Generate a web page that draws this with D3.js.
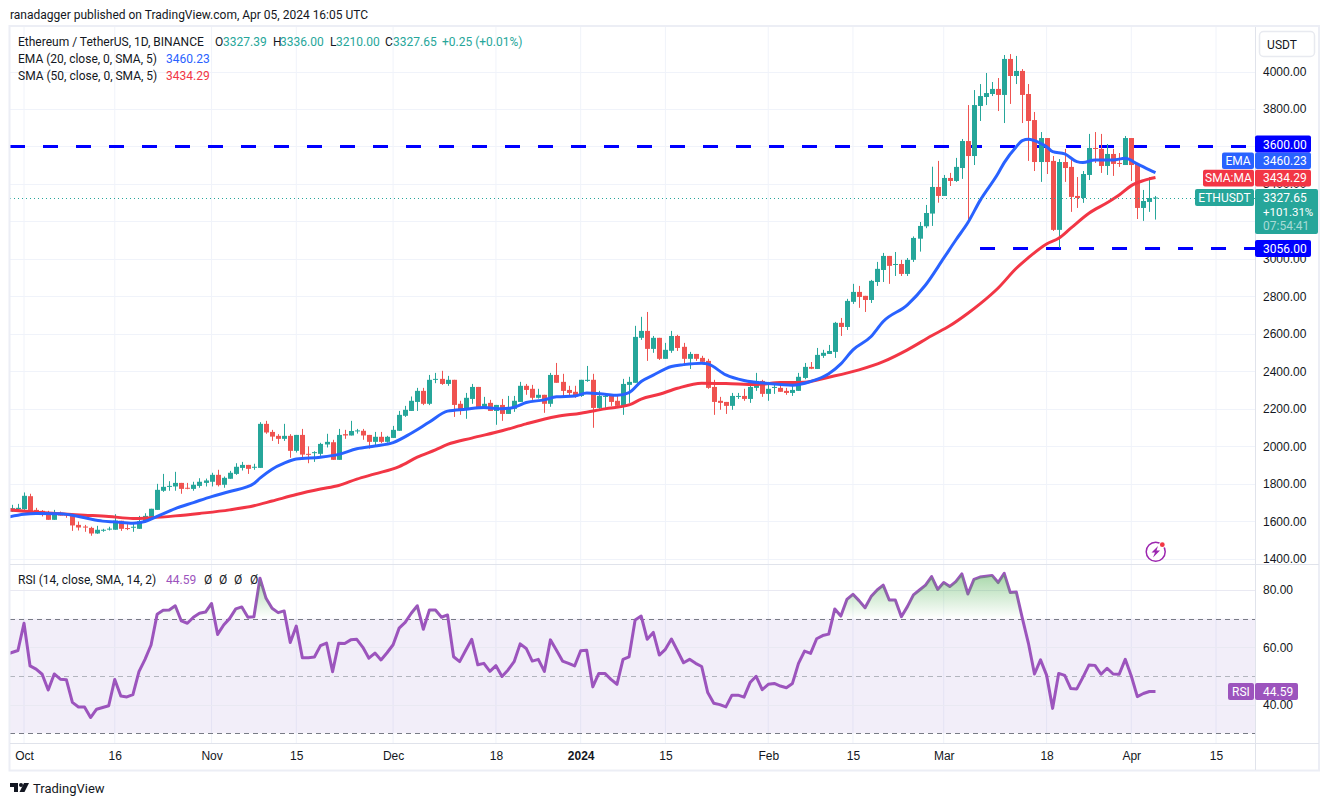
<!DOCTYPE html>
<html>
<head>
<meta charset="utf-8">
<style>
  html, body { margin: 0; padding: 0; background: #fff; }
  svg { display: block; font-family: Roboto, sans-serif; }
  .axis text { fill: #131722; font-size: 12px; }
  .axis path, .axis line { display: none; }
</style>
</head>
<body>
<div id="my_dataviz"></div>
<script src="https://d3js.org/d3.v7.min.js"></script>
<script>

// daily candles, first one is 29 Sep 2023, last one 5 Apr 2024
var opens = [1652,1665,
  1665,1734,1661,1656,1645,1608,1645,1638,1633,1581,1572,1565,1535,1551,1558,1555,1603,1564,1567,1560,1597,1624,1661,1763,1786,1786,1805,1779,1773,1789,1805,
  1811,1848,1795,1827,1853,1885,1901,1887,1885,2120,2077,2056,2040,2056,1976,2061,1960,1965,1960,2010,2022,1928,2065,2058,2081,2083,2061,2024,2051,2024,
  2045,2083,2163,2189,2237,2296,2227,2355,2360,2333,2355,2227,2195,2253,2317,2205,2232,2189,2221,2173,2200,2237,2323,2307,2259,2275,2227,2381,2344,2301,2291,
  2269,2349,2355,2205,2266,2269,2243,2216,2328,2339,2579,2616,2520,2579,2467,2510,2589,2531,2467,2493,2472,2456,2317,2243,2237,2216,2266,2269,2253,2312,2349,
  2280,2312,2312,2296,2285,2296,2365,2424,2413,2483,2493,2504,2659,2637,2771,2824,2803,2781,2877,2941,3016,2968,2973,2920,2995,3108,3174,3242,3384,
  3336,3432,3416,3485,3629,3549,3816,3864,3880,3907,3875,4067,3976,4003,3880,3741,3517,3645,3523,3155,3517,3491,3336,3325,3448,3592,3587,3496,3560,3512,3501,
  3645,3507,3272,3304,3327.39];
var closes = [1670,1672,
  1736,1653,1651,1640,1608,1645,1631,1635,1578,1567,1569,1535,1555,1555,1561,1604,1560,1560,1571,1601,1629,1667,1768,1784,1789,1805,1773,1775,1795,1811,1818,
  1848,1793,1832,1859,1891,1901,1880,1891,2120,2074,2052,2040,2056,1976,2061,1956,1956,1969,2013,2024,1928,2061,2058,2082,2085,2058,2024,2051,2024,2051,
  2088,2168,2195,2243,2296,2227,2355,2360,2333,2355,2221,2195,2259,2317,2205,2227,2189,2221,2173,2205,2243,2323,2301,2259,2275,2227,2381,2339,2296,2285,2269,
  2355,2355,2205,2269,2269,2237,2216,2333,2344,2584,2616,2520,2579,2467,2515,2589,2525,2467,2493,2467,2451,2312,2237,2232,2216,2269,2269,2253,2317,2349,2280,
  2307,2317,2291,2285,2301,2371,2424,2414,2488,2499,2509,2659,2637,2776,2824,2797,2781,2883,2947,3016,2963,2973,2920,2995,3112,3176,3245,3384,3336,
  3432,3416,3491,3629,3549,3821,3869,3885,3907,3875,4067,3976,4003,3875,3736,3517,3645,3517,3155,3517,3485,3331,3325,3453,3592,3587,3496,3560,3507,3507,3645,
  3501,3272,3309,3325,3327.65];
var highs = [1688,1693,
  1754,1747,1672,1660,1656,1661,1652,1643,1636,1599,1581,1571,1576,1560,1571,1638,1603,1585,1587,1629,1643,1667,1800,1853,1814,1864,1805,1805,1811,1830,1828,
  1859,1875,1839,1869,1910,1917,1901,1907,2129,2136,2088,2065,2120,2065,2061,2093,2000,1974,2019,2067,2035,2093,2088,2136,2093,2093,2061,2077,2077,2056,
  2109,2189,2216,2266,2312,2312,2381,2392,2403,2376,2355,2243,2285,2333,2317,2264,2248,2221,2253,2269,2269,2344,2333,2328,2307,2275,2392,2445,2387,2323,2323,
  2355,2429,2387,2296,2280,2269,2275,2360,2371,2643,2691,2717,2589,2579,2552,2616,2595,2552,2504,2493,2483,2467,2355,2264,2237,2285,2285,2307,2333,2392,2355,
  2344,2328,2328,2312,2337,2392,2445,2450,2525,2515,2541,2664,2685,2787,2867,2856,2803,2888,2984,3032,3016,3037,2995,3005,3120,3197,3288,3492,3523,
  3448,3459,3539,3640,3821,3901,3933,3992,3944,3965,4088,4093,4083,4013,3933,3784,3677,3645,3549,3533,3587,3544,3437,3469,3667,3677,3667,3613,3587,3565,3656,
  3645,3507,3368,3437,3336];
var lows = [1650,1661,
  1661,1640,1640,1626,1608,1608,1631,1619,1549,1551,1544,1523,1533,1544,1551,1555,1549,1553,1544,1560,1593,1624,1661,1757,1763,1763,1747,1771,1763,1779,1786,
  1786,1786,1779,1827,1848,1871,1853,1875,1885,2067,2029,2013,2029,1939,1967,1939,1910,1917,1949,1994,1928,1928,2040,2058,2068,2035,1988,1999,2017,2020,
  2045,2083,2157,2189,2189,2220,2220,2337,2328,2323,2157,2168,2147,2227,2202,2205,2189,2115,2136,2173,2184,2237,2275,2248,2255,2179,2211,2339,2259,2266,2259,
  2264,2344,2099,2200,2205,2216,2212,2168,2232,2339,2568,2456,2499,2461,2467,2499,2509,2429,2413,2456,2451,2307,2168,2195,2173,2195,2253,2243,2232,2296,2264,
  2243,2280,2291,2275,2269,2296,2358,2412,2413,2472,2493,2472,2589,2621,2760,2739,2717,2765,2856,2877,2867,2909,2909,2909,2984,3039,3164,3176,3300,
  3336,3389,3411,3427,3199,3501,3736,3821,3869,3789,3725,3827,3933,3725,3523,3469,3411,3453,3149,3059,3411,3251,3272,3299,3421,3512,3459,3448,3443,3491,3501,
  3416,3213,3203,3251,3210];

// moving averages, day = days after 1 Oct 2023
var emaDays = [-3,0,2,6,9,11,13,15,18,20,22,25,28,31,34,38,39,41,43,45,49,52,55,58,61,64,67,70,73,76,79,81,83,86,88,91,93,96,98,100,102,104,107,109,112,113,116,119,123,127,130,133,135,137,140,142,146,149,152,154,156,158,161,162,164,165,166,168,169,170,172,174,175,177,180,182,184,186,187];
var emaValues = [1620,1638,1642,1640,1626,1612,1601,1597,1590,1599,1626,1668,1700,1732,1759,1802,1830,1878,1910,1932,1942,1957,1987,2002,2020,2070,2130,2188,2198,2207,2200,2209,2234,2248,2264,2269,2284,2278,2273,2287,2346,2380,2426,2436,2444,2440,2381,2351,2335,2326,2346,2387,2440,2515,2586,2666,2755,2861,3004,3101,3194,3311,3457,3514,3599,3631,3638,3617,3599,3572,3560,3519,3514,3528,3528,3537,3507,3475,3460.23];
var smaDays = [-3,2,6,10,14,18,21,25,29,34,38,41,45,49,52,55,58,62,65,68,70,74,79,83,88,92,96,100,102,105,108,112,116,121,125,129,133,138,142,146,150,153,156,158,161,164,166,169,171,173,176,179,181,183,185,187];
var smaValues = [1663,1649,1640,1633,1626,1615,1619,1629,1642,1661,1683,1708,1743,1772,1791,1825,1853,1892,1942,1981,2010,2044,2083,2120,2159,2177,2200,2221,2252,2278,2310,2337,2335,2330,2340,2342,2369,2408,2452,2515,2590,2643,2710,2760,2845,2950,3007,3080,3110,3164,3244,3300,3341,3391,3418,3434.29];

// RSI, one value a day starting 28 Sep 2023
var rsiValues = [57.5,58.2,58.9,
  68.4,53.5,52.4,50.6,45.1,50.7,48.9,48.7,40.8,39.2,39.2,35.5,38.4,39,39.6,48.8,43,42.7,43.5,51.5,55.8,60.8,71.5,72.9,73,74.5,69.2,68.4,70.5,71.9,72.3,
  75.3,64.5,67.8,70.1,73.4,74.1,70.5,70.7,84.1,77.1,73.6,72.1,72.7,61.7,67.4,56.4,56.4,56.6,60.6,61.5,51.5,61.4,61.3,62.6,62.8,60,56.2,58,55.6,58.1,
  60.9,66.7,68.7,71.9,74.5,66.3,73,73,70.5,71.3,56.7,55,59,62.8,53.9,54.4,51.6,53.6,49.8,52.1,55,61.2,59.6,55.2,55.8,51.6,62.6,59,55.2,54.4,53.5,
  58.8,59,46.2,50.9,50.9,48.8,47.1,55.8,56.7,69.5,70.9,62.8,65.2,57.3,59.3,62.9,58.8,54.6,55.8,54.4,53.3,44.2,40.5,40,39.2,43.3,43.3,42.6,47.7,49.9,
  45.2,47.1,47.4,46.5,45.9,47.4,54.4,58.7,57.9,63,64.1,64.6,73.4,70.9,76.7,78.5,76.3,73.8,77.7,80,81.7,76.5,76.5,70.7,74.2,78.3,80,81.7,84.7,
  80.2,82.6,81.2,82.9,85.6,78.6,83.7,84.5,84.8,85.1,82.6,85.8,79.1,79.3,70.1,61.4,50.7,55.6,50.3,38.7,50.9,50.2,45.6,45.5,49.5,53.8,53.7,50.6,52.7,50.7,50.6,55.8,
  50,42.8,43.9,44.6,44.59];

var priceTicks = [1400,1600,1800,2000,2200,2400,2600,2800,3000,3200,3400,3600,3800,4000];
var priceLabels = [1400,1600,1800,2000,2200,2400,2600,2800,3000,3400,3800,4000]; // 3200 and 3600 sit under the tags
var rsiTicks = [40,60,80];
var rsiBands = [70,50,30];
var timeTickDays = [0,15,31,45,61,78,92,106,123,137,152,169,183,197];
var timeTickLabels = ["Oct","16","Nov","15","Dec","18","2024","15","Feb","15","Mar","18","Apr","15"];
var supportLevel = 3056, resistanceLevel = 3600;
var supportStartDay = 158;
var lastClose = 3327.65, lastEma = 3460.23, lastSma = 3434.29, lastRsi = 44.59;

var width = 1329, height = 806;
var left = 10, right = 1255, axisY = 743, paneY = 564, topY = 27;

var green = "#26a69a", red = "#ef5350", emaColor = "#2962ff", smaColor = "#f23645",
    rsiColor = "#9c54bd", grid = "#f0f3fa", frame = "#e0e3eb", dashBlue = "#0000ff";

var svg = d3.select("#my_dataviz").append("svg")
    .attr("width", width).attr("height", height);
var defs = svg.append("defs");

var startDay = new Date(Date.UTC(2023, 9, 1));
function toDate(n) { return d3.utcDay.offset(startDay, n); }

var x = d3.scaleUtc().domain([toDate(0), toDate(197)]).range([24, 1216]);
var y = d3.scaleLinear().domain([1400, 4000]).range([558.8, 71.5]);
var rsiY = d3.scaleLinear().domain([30, 80]).range([733.3, 590]);

defs.append("clipPath").attr("id", "priceClip").append("rect")
    .attr("x", left).attr("y", topY).attr("width", right - left).attr("height", paneY - topY);
defs.append("clipPath").attr("id", "rsiClip").append("rect")
    .attr("x", left).attr("y", paneY).attr("width", right - left).attr("height", axisY - paneY);
defs.append("clipPath").attr("id", "overClip").append("rect")
    .attr("x", left).attr("y", paneY).attr("width", right - left).attr("height", rsiY(70) - paneY);

var gradient = defs.append("linearGradient").attr("id", "overFill")
    .attr("gradientUnits", "userSpaceOnUse")
    .attr("x1", 0).attr("x2", 0).attr("y1", rsiY(86)).attr("y2", rsiY(70));
gradient.append("stop").attr("offset", 0).attr("stop-color", "#4caf50").attr("stop-opacity", 0.5);
gradient.append("stop").attr("offset", 1).attr("stop-color", "#4caf50").attr("stop-opacity", 0);

// grid
svg.selectAll(".vgrid").data(timeTickDays).enter().append("line")
    .attr("x1", function(d) { return x(toDate(d)); })
    .attr("x2", function(d) { return x(toDate(d)); })
    .attr("y1", topY).attr("y2", axisY)
    .attr("stroke", grid);
svg.selectAll(".hgrid").data(priceTicks).enter().append("line")
    .attr("x1", left).attr("x2", right)
    .attr("y1", function(d) { return Math.round(y(d)) + 0.5; })
    .attr("y2", function(d) { return Math.round(y(d)) + 0.5; })
    .attr("stroke", grid);

// RSI background
svg.append("rect").attr("x", left).attr("width", right - left)
    .attr("y", rsiY(70)).attr("height", rsiY(30) - rsiY(70))
    .attr("fill", "#7e57c2").attr("opacity", 0.1);
svg.selectAll(".rgrid").data(rsiTicks).enter().append("line")
    .attr("x1", left).attr("x2", right)
    .attr("y1", function(d) { return Math.round(rsiY(d)) + 0.5; })
    .attr("y2", function(d) { return Math.round(rsiY(d)) + 0.5; })
    .attr("stroke", "#e9e9f2");
svg.selectAll(".band").data(rsiBands).enter().append("line")
    .attr("x1", left).attr("x2", right)
    .attr("y1", function(d) { return Math.round(rsiY(d)) + 0.5; })
    .attr("y2", function(d) { return Math.round(rsiY(d)) + 0.5; })
    .attr("stroke", function(d) { return d == 50 ? "#b2b5be" : "#787b86"; })
    .attr("stroke-dasharray", "5 4");

// level lines
svg.append("line")
    .attr("x1", left).attr("x2", right)
    .attr("y1", y(resistanceLevel)).attr("y2", y(resistanceLevel))
    .attr("stroke", dashBlue).attr("stroke-width", 3).attr("stroke-dasharray", "15 18");
svg.append("line")
    .attr("x1", x(toDate(supportStartDay))).attr("x2", right)
    .attr("y1", y(supportLevel)).attr("y2", y(supportLevel))
    .attr("stroke", dashBlue).attr("stroke-width", 3).attr("stroke-dasharray", "15 18");

// candles
var candles = closes.map(function(c, i) {
  return {date: toDate(i - 2), open: opens[i], high: highs[i], low: lows[i], close: c};
});
var price = svg.append("g").attr("clip-path", "url(#priceClip)");

var candle = price.selectAll(".candle").data(candles).enter().append("g");
candle.append("line")
    .attr("x1", function(d) { return Math.round(x(d.date)) + 0.5; })
    .attr("x2", function(d) { return Math.round(x(d.date)) + 0.5; })
    .attr("y1", function(d) { return y(d.high); })
    .attr("y2", function(d) { return y(d.low); })
    .attr("stroke", function(d) { return d.close >= d.open ? green : red; });
candle.append("rect")
    .attr("x", function(d) { return Math.round(x(d.date)) - 2; })
    .attr("width", 5)
    .attr("y", function(d) { return y(Math.max(d.open, d.close)); })
    .attr("height", function(d) { return Math.max(1, Math.abs(y(d.open) - y(d.close))); })
    .attr("fill", function(d) { return d.close >= d.open ? green : red; });

// moving averages
function maLine(days, values, color) {
  var line = d3.line()
      .x(function(d) { return x(toDate(d)); })
      .y(function(d, i) { return y(values[i]); })
      .curve(d3.curveMonotoneX);
  price.append("path").attr("d", line(days))
      .attr("fill", "none").attr("stroke", color).attr("stroke-width", 3)
      .attr("stroke-linejoin", "round");
}
maLine(smaDays, smaValues, smaColor);
maLine(emaDays, emaValues, emaColor);

// last price dotted line
svg.append("line")
    .attr("x1", left).attr("x2", right)
    .attr("y1", Math.round(y(lastClose)) + 0.5).attr("y2", Math.round(y(lastClose)) + 0.5)
    .attr("stroke", green).attr("stroke-dasharray", "1 3");

// RSI line and the green fill above 70
var rsi = svg.append("g").attr("clip-path", "url(#rsiClip)");
var rsiArea = d3.area()
    .x(function(d, i) { return x(toDate(i - 3)); })
    .y0(rsiY(70))
    .y1(function(d) { return rsiY(d); });
svg.append("g").attr("clip-path", "url(#overClip)").append("path")
    .attr("d", rsiArea(rsiValues)).attr("fill", "url(#overFill)");
var rsiLine = d3.line()
    .x(function(d, i) { return x(toDate(i - 3)); })
    .y(function(d) { return rsiY(d); });
rsi.append("path").attr("d", rsiLine(rsiValues))
    .attr("fill", "none").attr("stroke", rsiColor).attr("stroke-width", 3)
    .attr("stroke-linejoin", "round");

// frames
svg.append("rect").attr("x", 9.5).attr("y", 26).attr("width", 1309.5).attr("height", 744.5)
    .attr("fill", "none").attr("stroke", "#eceef5").attr("stroke-width", 2);
svg.append("line").attr("x1", left).attr("x2", 1319).attr("y1", paneY + 0.5).attr("y2", paneY + 0.5).attr("stroke", frame);
svg.append("line").attr("x1", left).attr("x2", 1319).attr("y1", axisY + 0.5).attr("y2", axisY + 0.5).attr("stroke", frame);
svg.append("line").attr("x1", right + 0.5).attr("x2", right + 0.5).attr("y1", topY).attr("y2", 770).attr("stroke", frame);

// axes
svg.append("g").attr("class", "axis")
    .attr("transform", "translate(" + right + ",0)")
    .call(d3.axisRight(y).tickValues(priceLabels).tickSize(0).tickPadding(8).tickFormat(d3.format(".2f")));
svg.append("g").attr("class", "axis")
    .attr("transform", "translate(" + right + ",0)")
    .call(d3.axisRight(rsiY).tickValues(rsiTicks).tickSize(0).tickPadding(8).tickFormat(d3.format(".2f")));
var timeAxis = svg.append("g").attr("class", "axis")
    .attr("transform", "translate(0," + axisY + ")")
    .call(d3.axisBottom(x).tickValues(timeTickDays.map(toDate)).tickSize(0).tickPadding(8)
      .tickFormat(function(d, i) { return timeTickLabels[i]; }));
timeAxis.selectAll("text")
    .style("font-weight", function(d, i) { return timeTickLabels[i] == "2024" ? "700" : "400"; });

// price tags on the scale
function tag(x0, x1, y0, y1, color) {
  svg.append("rect").attr("x", x0).attr("y", y0).attr("width", x1 - x0).attr("height", y1 - y0)
      .attr("rx", 2).attr("fill", color);
}
function label(tx, ty, text, color, anchor, size) {
  svg.append("text").attr("x", tx).attr("y", ty).attr("dy", "0.35em")
      .attr("text-anchor", anchor || "start").attr("fill", color)
      .style("font-size", (size || 12) + "px").text(text);
}

tag(1222, 1254, 152.5, 169, emaColor);
tag(1255, 1311, 152.5, 169, emaColor);
label(1238, 161, "EMA", "#fff", "middle");
label(1263, 161, d3.format(".2f")(lastEma), "#fff");

tag(1203, 1254, 169.7, 186.5, smaColor);
tag(1255, 1311, 169.7, 186.5, smaColor);
label(1228.5, 178, "SMA:MA", "#fff", "middle");
label(1263, 178, d3.format(".2f")(lastSma), "#fff");

tag(1255, 1311, y(resistanceLevel) - 11, y(resistanceLevel) + 6, dashBlue);
label(1263, y(resistanceLevel) - 2, d3.format(".2f")(resistanceLevel), "#fff");
tag(1255, 1311, 240, 257, dashBlue);
label(1263, 248.5, d3.format(".2f")(supportLevel), "#fff");

tag(1195, 1254, 189, 206, green);
tag(1255, 1318, 189, 234, green);
label(1224.5, 197.5, "ETHUSDT", "#fff", "middle");
label(1263, 197.5, d3.format(".2f")(lastClose), "#fff");
label(1263, 212, "+101.31%", "#fff", "start", 11.5);
label(1263, 226, "07:54:41", "#a8dbd6");

tag(1228, 1254, 683, 700, rsiColor);
tag(1255, 1298, 683, 700, rsiColor);
label(1241, 691.5, "RSI", "#fff", "middle");
label(1263, 691.5, d3.format(".2f")(lastRsi), "#fff");

// currency button
svg.append("rect").attr("x", 1259.5).attr("y", 31.5).attr("width", 55).attr("height", 25).attr("rx", 4)
    .attr("fill", "#fff").attr("stroke", "#e8eaf0").attr("stroke-width", 1.5);
label(1282, 44.5, "USDT", "#131722", "middle");

// header and legends
var ink = "#131722";
label(10, 15, "ranadagger published on TradingView.com, Apr 05, 2024 16:05 UTC", ink);

label(18, 42, "Ethereum / TetherUS, 1D, BINANCE", ink);
label(215, 42, "O", ink);   label(223, 42, "3327.39", green);
label(273, 42, "H", ink);   label(280, 42, "3336.00", green);
label(330, 42, "L", ink);   label(336, 42, "3210.00", green);
label(385, 42, "C", ink);   label(393, 42, "3327.65", green);
label(442, 42, "+0.25 (+0.01%)", green);

label(18, 59, "EMA (20, close, 0, SMA, 5)", ink);
label(166, 59, "3460.23", emaColor);
label(18, 76, "SMA (50, close, 0, SMA, 5)", ink);
label(166, 76, "3434.29", smaColor);

label(18, 580, "RSI (14, close, SMA, 14, 2)", ink);
label(166, 580, "44.59", rsiColor);
[207, 222, 237, 253].forEach(function(px) { label(px - 3, 580, "Ø", ink); });

// flash icon
svg.append("circle").attr("cx", 1155.7).attr("cy", 551.7).attr("r", 9.5)
    .attr("fill", "#fff").attr("stroke", "#9c27b0").attr("stroke-width", 1.5);
svg.append("path").attr("d", "M1158 546L1151.5 552.5L1155 552.5L1153 557.5L1160 550.5L1156.5 550.5Z")
    .attr("fill", "#9c27b0");
svg.append("circle").attr("cx", 1162.3).attr("cy", 544.7).attr("r", 3.2).attr("fill", "#fff");
svg.append("circle").attr("cx", 1162.3).attr("cy", 544.7).attr("r", 2.4).attr("fill", "#f23645");

// logo
svg.append("path").attr("d", "M10 783H18V792H14V787H10Z").attr("fill", "#131722");
svg.append("circle").attr("cx", 21).attr("cy", 785).attr("r", 2).attr("fill", "#131722");
svg.append("path").attr("d", "M24 783H29L24.5 792H19.5Z").attr("fill", "#131722");
label(33, 788, "TradingView", ink, "start", 13);

</script>
</body>
</html>
